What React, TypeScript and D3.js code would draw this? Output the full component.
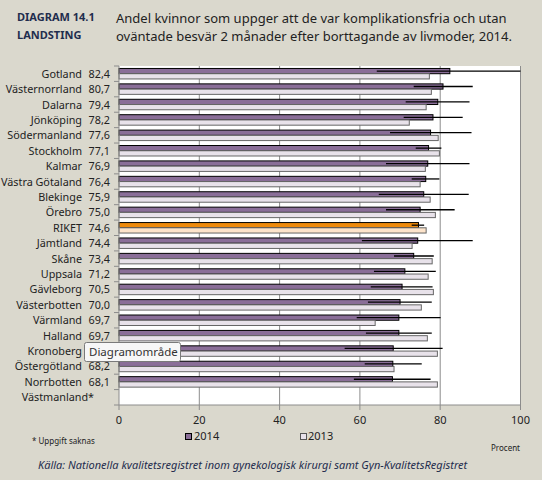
import React from "react";
import * as d3 from "d3";

const categories = ["Gotland", "Västernorrland", "Dalarna", "Jönköping", "Södermanland", "Stockholm", "Kalmar", "Västra Götaland", "Blekinge", "Örebro", "RIKET", "Jämtland", "Skåne", "Uppsala", "Gävleborg", "Västerbotten", "Värmland", "Halland", "Kronoberg", "Östergötland", "Norrbotten", "Västmanland*"];
const valueLabels = ["82,4", "80,7", "79,4", "78,2", "77,6", "77,1", "76,9", "76,4", "75,9", "75,0", "74,6", "74,4", "73,4", "71,2", "70,5", "70,0", "69,7", "69,7", "", "68,2", "68,1", ""];
const values2014: (number | null)[] = [82.4, 80.7, 79.4, 78.2, 77.6, 77.1, 76.9, 76.4, 75.9, 75.0, 74.6, 74.4, 73.4, 71.2, 70.5, 70.0, 69.7, 69.7, 68.3, 68.2, 68.1, null];
const values2013: (number | null)[] = [77.3, 77.8, 76.5, 72.3, 79.5, 79.8, 76.3, 75.0, 77.5, 78.8, 76.5, 73.0, 78.0, 77.0, 78.3, 75.3, 63.8, 76.8, 79.3, 68.5, 79.3, null];
const ciLow: (number | null)[] = [64.2, 73.4, 71.4, 70.9, 67.5, 73.9, 66.5, 72.9, 64.7, 66.5, 72.9, 60.5, 68.5, 63.5, 62.7, 62.0, 59.2, 61.5, 56.2, 61.2, 58.5, null];
const ciHigh: (number | null)[] = [100, 88.1, 87.3, 85.6, 87.8, 80.3, 87.3, 79.8, 87.1, 83.6, 76.0, 88.1, 78.4, 78.9, 78.1, 77.9, 80.1, 77.9, 80.6, 75.4, 77.6, null];
const xTicks = [0, 20, 40, 60, 80, 100];
const seriesNames = ["2014", "2013"];

const BG = "#DAD8CD";
const P14 = "#8A6E98";
const P13 = "#E8E2EA";
const R14 = "#EE8A0C";
const R13 = "#FDE4CB";

export default function App() {
  const left = 119, right = 520.5, top = 66, bottom = 405;
  const x = d3.scaleLinear().domain([0, 100]).range([left, right]);
  const y = d3.scaleBand<string>().domain(categories).range([top, bottom]).paddingInner(0).paddingOuter(0);
  const bw = y.bandwidth();
  const barH = bw * 0.34;
  const font = "'Noto Sans', 'DejaVu Sans', sans-serif";

  return (
    <svg width={542} height={480} style={{ position: "absolute", left: 0, top: 0, background: BG }}>
      <rect x={0} y={0} width={542} height={480} fill={BG} />
      {/* header */}
      <text x={17} y={21} fontFamily={font} fontWeight="bold" fontSize={11} fill="#1F2D4E">DIAGRAM  14.1</text>
      <text x={17} y={39} fontFamily={font} fontWeight="bold" fontSize={11} fill="#1F2D4E">LANDSTING</text>
      <text x={116} y={23} fontFamily={font} fontSize={13} fill="#222">Andel kvinnor som uppger att de var komplikationsfria och utan</text>
      <text x={116} y={41} fontFamily={font} fontSize={13} fill="#222">oväntade besvär 2 månader efter  borttagande av livmoder, 2014.</text>

      {/* plot area */}
      <rect x={left} y={top} width={right - left} height={bottom - top} fill="#fff" />
      {xTicks.filter((t) => t > 0).map((t) => (
        <line key={"g" + t} x1={x(t)} x2={x(t)} y1={top} y2={bottom} stroke="#8C8C8C" strokeWidth={1} />
      ))}

      {/* bars */}
      {categories.map((c, i) => {
        const y0 = (y(c) as number) + bw / 2 - barH;
        const isR = c === "RIKET";
        const v14 = values2014[i];
        const v13 = values2013[i];
        const lo = ciLow[i];
        const hi = ciHigh[i];
        return (
          <g key={c}>
            {v14 != null && (
              <rect x={x(0)} y={y0} width={x(v14) - x(0)} height={barH} fill={isR ? R14 : P14} stroke="#000" strokeWidth={1} />
            )}
            {v13 != null && (
              <rect x={x(0)} y={y0 + barH} width={x(v13) - x(0)} height={barH} fill={isR ? R13 : P13} stroke="#666" strokeWidth={1} />
            )}
            {lo != null && hi != null && (
              <line x1={x(lo)} x2={x(hi)} y1={y0 + barH / 2} y2={y0 + barH / 2} stroke="#000" strokeWidth={1.3} />
            )}
          </g>
        );
      })}

      {/* axes */}
      <line x1={left} x2={left} y1={top} y2={bottom} stroke="#8C8C8C" />
      <line x1={left} x2={right} y1={bottom} y2={bottom} stroke="#8C8C8C" />
      {categories.map((c) => (
        <line key={"yt" + c} x1={left - 5} x2={left} y1={y(c) as number} y2={y(c) as number} stroke="#8C8C8C" />
      ))}
      <line x1={left - 5} x2={left} y1={bottom} y2={bottom} stroke="#8C8C8C" />
      {xTicks.map((t) => (
        <g key={"xt" + t}>
          <line x1={x(t)} x2={x(t)} y1={bottom} y2={bottom + 5} stroke="#8C8C8C" />
          <text x={x(t)} y={424} textAnchor="middle" fontFamily={font} fontSize={11} fill="#222">{t}</text>
        </g>
      ))}

      {/* category labels */}
      {categories.map((c, i) => {
        const cy = (y(c) as number) + bw / 2 + 4;
        const last = c === "Västmanland*";
        return (
          <g key={"l" + c}>
            <text x={last ? 94 : 82} y={cy} textAnchor="end" fontFamily={font} fontSize={10.8} fill="#222">{c}</text>
            {valueLabels[i] && (
              <text x={110} y={cy} textAnchor="end" fontFamily={font} fontSize={10.8} fill="#222">{valueLabels[i]}</text>
            )}
          </g>
        );
      })}

      {/* tooltip */}
      <rect x={84.5} y={342.5} width={96} height={19} rx={2} fill="#F7F7F7" stroke="#7A7A7A" />
      <text x={89} y={355.5} fontFamily={font} fontSize={11.5} fill="#333">Diagramområde</text>

      {/* legend */}
      <text x={32} y={444} fontFamily={font} fontSize={8} fill="#222">* Uppgift  saknas</text>
      <rect x={185.5} y={433.5} width={6} height={6} fill={P14} stroke="#000" />
      <text x={194} y={440} fontFamily={font} fontSize={11} fill="#222">{seriesNames[0]}</text>
      <rect x={300.5} y={433.5} width={6} height={6} fill={P13} stroke="#555" />
      <text x={308} y={440} fontFamily={font} fontSize={11} fill="#222">{seriesNames[1]}</text>
      <text x={491} y={451} fontFamily={font} fontSize={8} fill="#222">Procent</text>

      <text x={38} y={469} fontFamily={font} fontSize={11} fontStyle="italic" fill="#1F2D4E">Källa: Nationella kvalitetsregistret inom gynekologisk kirurgi samt Gyn-KvalitetsRegistret</text>
    </svg>
  );
}
